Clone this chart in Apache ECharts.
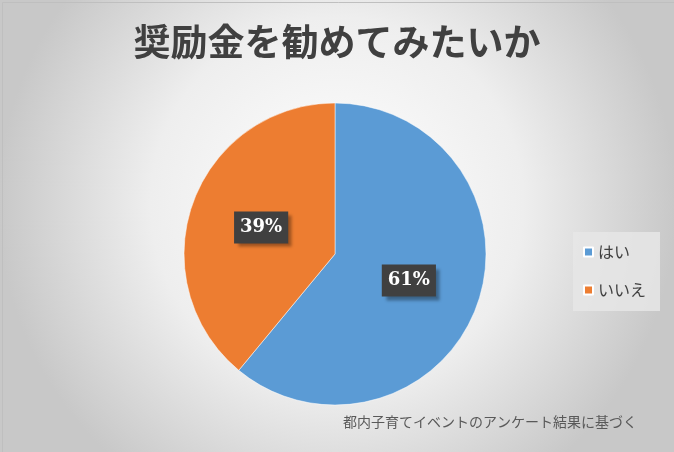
<!DOCTYPE html>
<html>
<head>
<meta charset="utf-8">
<script src="https://cdn.jsdelivr.net/npm/echarts@6/dist/echarts.min.js"></script>
<style>
  html, body { margin: 0; padding: 0; background: #fff; }
  #chart { width: 674px; height: 452px; }
</style>
</head>
<body>
<div id="chart"></div>
<script>
  // データ
  const categories = ['はい', 'いいえ'];
  const values = [61, 39];
  const colors = ['#5b9bd5', '#ed7d31'];

  const titleText = '奨励金を勧めてみたいか';
  const noteText = '都内子育てイベントのアンケート結果に基づく';

  const CJK = '"Noto Sans CJK JP", "Noto Sans", sans-serif';

  const chart = echarts.init(document.getElementById('chart'), null, { renderer: 'canvas' });

  chart.setOption({
    backgroundColor: {
      type: 'radial', x: 0.5, y: 0.45, r: 0.75,
      colorStops: [
        { offset: 0, color: '#ffffff' },
        { offset: 0.55, color: '#eeeeee' },
        { offset: 1, color: '#c8c8c8' }
      ]
    },
    title: {
      text: titleText,
      left: 'center',
      top: 18,
      textStyle: { fontFamily: CJK, fontSize: 37, fontWeight: 'bold', color: '#404040' }
    },
    legend: {
      orient: 'vertical',
      left: 573,
      top: 232,
      width: 88,
      padding: [12, 14, 13, 10],
      itemGap: 22,
      itemWidth: 9,
      itemHeight: 9,
      icon: 'rect',
      backgroundColor: 'rgba(230,230,230,0.85)',
      textStyle: { fontFamily: CJK, fontSize: 16, color: '#404040' },
      data: categories
    },
    graphic: [
      {
        type: 'rect',
        left: 0, top: 0,
        shape: { width: 673, height: 451 },
        style: { fill: 'none', stroke: '#bfbfbf', lineWidth: 1 },
        silent: true
      },
      {
        type: 'text',
        left: 343, top: 415,
        style: { text: noteText, font: '14px ' + CJK, fill: '#595959' }
      }
    ],
    series: [{
      type: 'pie',
      center: [335, 254],
      radius: 151,
      startAngle: 90,
      clockwise: true,
      silent: true,
      label: {
        show: true,
        position: 'inside',
        formatter: '{d}%',
        fontFamily: '"DejaVu Serif", "Liberation Serif", serif',
        fontWeight: 'bold',
        fontSize: 18,
        color: '#ffffff',
        backgroundColor: '#404040',
        padding: [8, 6, 6, 6],
        shadowColor: 'rgba(0,0,0,0.35)',
        shadowOffsetX: 4,
        shadowOffsetY: 4,
        shadowBlur: 3
      },
      labelLine: { show: false },
      itemStyle: { borderColor: '#ffffff', borderWidth: 0.5 },
      data: categories.map(function (c, i) {
        return { name: c, value: values[i], itemStyle: { color: colors[i] } };
      })
    }]
  });
</script>
</body>
</html>
